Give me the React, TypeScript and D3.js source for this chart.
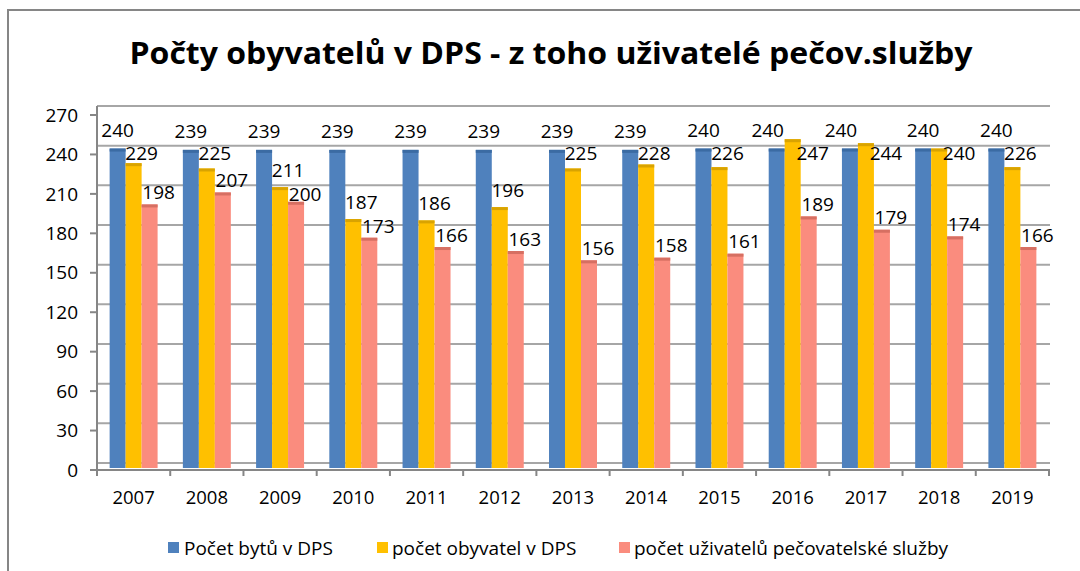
import React from "react";
import * as d3 from "d3";

const years = ["2007","2008","2009","2010","2011","2012","2013","2014","2015","2016","2017","2018","2019"];
const seriesNames = ["Počet bytů v DPS", "počet obyvatel v DPS", "počet uživatelů pečovatelské služby"];
const byty = [240,239,239,239,239,239,239,239,240,240,240,240,240];
const obyvatel = [229,225,211,187,186,196,225,228,226,247,244,240,226];
const uzivatelu = [198,207,200,173,166,163,156,158,161,189,179,174,166];
const yTicks = [0,30,60,90,120,150,180,210,240,270];
const title = "Počty obyvatelů v DPS - z toho uživatelé pečov.služby";

const colors = ["#4F81BD", "#FFC000", "#FA8C7E"];
const capColors = ["#3B6BA3", "#D9A300", "#D66F62"];

const FONT = "'Open Sans', 'Noto Sans', sans-serif";

export default function App() {
  const W = 1080, H = 571;
  const left = 97, right = 1049;
  const x0 = d3.scaleBand<string>().domain(years).range([left, right]).padding(0);
  const x1 = d3.scaleBand<number>().domain([0,1,2]).range([0, x0.bandwidth()]).paddingInner(0).paddingOuter(0.79);
  const yBar = d3.scaleLinear().domain([0,270]).range([468, 108.6]);
  const yGrid = d3.scaleLinear().domain([0,270]).range([463, 106]);
  const yAxis = d3.scaleLinear().domain([0,270]).range([470, 115]);
  const data = [byty, obyvatel, uzivatelu];

  const legendItems = [
    { sx: 168, tx: 184 },
    { sx: 377, tx: 392 },
    { sx: 619, tx: 634 },
  ];

  // label placement mimicking the reference's spreadsheet-style offsets
  const labelPos = (k: number, i: number): { x: number; y: number } => {
    const bx = (x0(years[i]) as number) + (x1(k) as number) + x1.bandwidth() / 2;
    const top = yBar(data[k][i]);
    if (k === 0) {
      const dx = obyvatel[i] > byty[i] ? -9 : 0;
      return { x: bx + dx, y: top - 18.5 };
    }
    if (k === 1) {
      const y = Math.max(top - 17, 153);
      const dx = y > top - 10 ? 20 : 8;
      return { x: bx + dx, y };
    }
    const yel = labelPos(1, i);
    const y = Math.max(top - 12, yel.y + 24);
    return { x: bx + 9, y };
  };

  return (
    <div style={{ position: "fixed", left: 0, top: 0 }}>
      <svg width={W} height={H} style={{ display: "block", background: "#fff" }}>
        <rect x={8} y={10} width={W} height={H} fill="#fff" stroke="#868686" strokeWidth={2} />
        <text x={551} y={64} textAnchor="middle" fontFamily={FONT} fontWeight="bold" fontSize={31}
          textLength={843} lengthAdjust="spacingAndGlyphs" fill="#000">{title}</text>

        {/* back wall gridlines */}
        {yTicks.map(t => (
          <line key={"g"+t} x1={left} x2={right+1} y1={yGrid(t)} y2={yGrid(t)} stroke="#A6A6A6" strokeWidth={2} />
        ))}
        {/* left axis */}
        <line x1={left} x2={left} y1={106} y2={470} stroke="#868686" strokeWidth={2} />
        {yTicks.map(t => (
          <g key={"t"+t}>
            <line x1={90} x2={left} y1={yAxis(t)} y2={yAxis(t)} stroke="#868686" strokeWidth={2} />
            <text x={78} y={yAxis(t)} dy="0.35em" textAnchor="end" fontFamily={FONT} fontSize={19} fill="#000">{t}</text>
          </g>
        ))}
        {/* bottom axis */}
        <line x1={90} x2={right+1} y1={470} y2={470} stroke="#868686" strokeWidth={2} />
        {years.concat(["end"]).map((yr, i) => {
          const xx = i < years.length ? (x0(yr) as number) : right;
          return <line key={"xt"+i} x1={xx} x2={xx} y1={470} y2={476} stroke="#868686" strokeWidth={2} />;
        })}

        {/* bars */}
        {years.map((yr, i) => (
          <g key={yr}>
            {data.map((s, k) => {
              const bx = (x0(yr) as number) + (x1(k) as number);
              const bw = x1.bandwidth();
              const top = yBar(s[i]);
              return (
                <g key={k}>
                  <rect x={bx} y={top} width={bw} height={yBar(0) - top} fill={colors[k]} />
                  <rect x={bx} y={top} width={bw} height={3} fill={capColors[k]} />
                </g>
              );
            })}
          </g>
        ))}
        {/* labels */}
        {years.map((yr, i) => (
          <g key={"l"+yr}>
            {data.map((s, k) => {
              const p = labelPos(k, i);
              return (
                <text key={k} x={p.x} y={p.y} dy="0.35em" textAnchor="middle"
                  fontFamily={FONT} fontSize={19} fill="#000">{s[i]}</text>
              );
            })}
          </g>
        ))}
        {/* x labels */}
        {years.map(yr => (
          <text key={"xl"+yr} x={(x0(yr) as number) + x0.bandwidth()/2} y={498} dy="0.35em" textAnchor="middle"
            fontFamily={FONT} fontSize={18.5} fill="#000">{yr}</text>
        ))}
        {/* legend */}
        {seriesNames.map((n, k) => (
          <g key={"lg"+k}>
            <rect x={legendItems[k].sx} y={542} width={11} height={11} fill={colors[k]} />
            <text x={legendItems[k].tx} y={548} dy="0.35em" fontFamily={FONT} fontSize={19} fill="#000">{n}</text>
          </g>
        ))}
      </svg>
    </div>
  );
}
